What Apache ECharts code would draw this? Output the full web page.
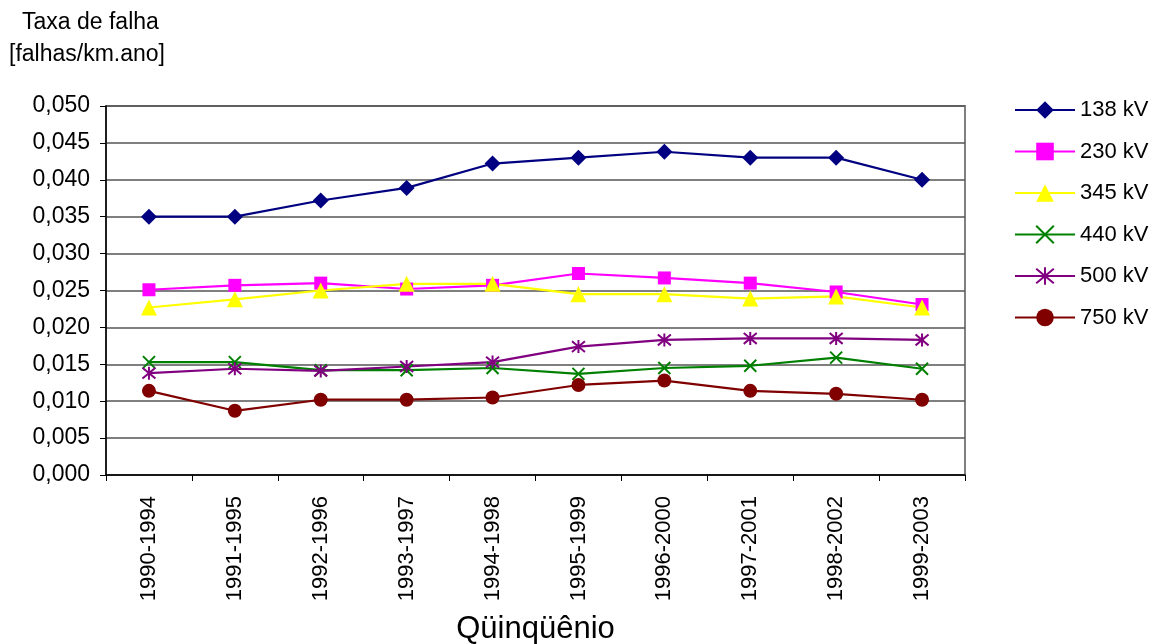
<!DOCTYPE html>
<html>
<head>
<meta charset="utf-8">
<script src="https://cdn.jsdelivr.net/npm/echarts@6/dist/echarts.min.js"></script>
<style>html,body{margin:0;padding:0;background:#fff}#c{width:1154px;height:644px}</style>
</head>
<body>
<div id="c"></div>
<script>
const categories = ['1990-1994','1991-1995','1992-1996','1993-1997','1994-1998','1995-1999','1996-2000','1997-2001','1998-2002','1999-2003'];
const s138 = [0.0350, 0.0350, 0.0372, 0.0389, 0.0422, 0.0430, 0.0438, 0.0430, 0.0430, 0.0400];
const s230 = [0.0251, 0.0257, 0.0260, 0.0252, 0.0257, 0.0273, 0.0267, 0.0260, 0.0248, 0.0231];
const s345 = [0.0227, 0.0238, 0.0250, 0.0259, 0.0259, 0.0245, 0.0245, 0.0239, 0.0242, 0.0227];
const s440 = [0.0153, 0.0153, 0.0142, 0.0142, 0.0145, 0.0137, 0.0145, 0.0148, 0.0159, 0.0144];
const s500 = [0.0138, 0.0144, 0.0141, 0.0147, 0.0153, 0.0174, 0.0183, 0.0185, 0.0185, 0.0183];
const s750 = [0.0114, 0.0087, 0.0102, 0.0102, 0.0105, 0.0122, 0.0128, 0.0114, 0.0110, 0.0102];
const seriesNames = ['138 kV','230 kV','345 kV','440 kV','500 kV','750 kV'];
const yTitle1 = 'Taxa de falha';
const yTitle2 = '[falhas/km.ano]';
const xTitle = 'Qüinqüênio';

const FONT = '"Liberation Sans", Arial, sans-serif';
const X_PATH = 'path://M0 0L10 10M10 0L0 10';
const AST_PATH = 'path://M0 0L10 10M10 0L0 10M5 -1L5 11';

function mk(name, data, color, symbol, size, stroked) {
  const s = {
    name, type: 'line', data, symbol, symbolSize: size,
    lineStyle: {color, width: 2.2},
    itemStyle: {color},
    emphasis: {disabled: true},
    animation: false
  };
  if (stroked) {
    s.itemStyle = {color: 'rgba(0,0,0,0)', borderColor: color, borderWidth: 2};
  }
  return s;
}

const chart = echarts.init(document.getElementById('c'));
chart.setOption({
  animation: false,
  textStyle: {fontFamily: FONT},
  grid: {left: 106, top: 106, right: 189, bottom: 169, outerBoundsMode: 'none', containLabel: false,
    show: true, borderColor: '#808080', borderWidth: 2, backgroundColor: '#fff'},
  legend: {
    orient: 'vertical', left: 1014, top: 99, padding: 0,
    itemWidth: 60, itemHeight: 22, itemGap: 19.5,
    textStyle: {fontSize: 22, color: '#000', fontFamily: FONT, lineHeight: 22},
    data: seriesNames
  },
  graphic: [
    {type: 'text', left: 22, top: 11, style: {text: yTitle1, fontSize: 23, fontFamily: FONT, fill: '#000'}},
    {type: 'text', left: 9, top: 43, style: {text: yTitle2, fontSize: 23, fontFamily: FONT, fill: '#000'}}
  ],
  xAxis: {
    type: 'category', data: categories, boundaryGap: true,
    name: xTitle, nameLocation: 'middle', nameGap: 139,
    nameTextStyle: {fontSize: 31, color: '#000', fontFamily: FONT},
    axisLine: {lineStyle: {color: '#000', width: 1.5}},
    axisTick: {show: true, length: 6, lineStyle: {color: '#000'}},
    axisLabel: {rotate: 90, fontSize: 22, color: '#000', margin: 21, fontFamily: FONT},
    splitLine: {show: false}
  },
  yAxis: {
    type: 'value', min: 0, max: 0.05, interval: 0.005,
    axisLine: {show: true, lineStyle: {color: '#000', width: 1.5}},
    axisTick: {show: true, length: 6, lineStyle: {color: '#000'}},
    axisLabel: {fontSize: 23, color: '#000', margin: 16, fontFamily: FONT,
      formatter: v => v.toFixed(3).replace('.', ',')},
    splitLine: {show: true, lineStyle: {color: '#555', width: 1.5}}
  },
  series: [
    mk(seriesNames[0], s138, '#000080', 'diamond', 16, false),
    mk(seriesNames[1], s230, '#FF00FF', 'rect', 13, false),
    mk(seriesNames[2], s345, '#FFFF00', 'triangle', 16, false),
    mk(seriesNames[3], s440, '#008000', X_PATH, 12, true),
    mk(seriesNames[4], s500, '#800080', AST_PATH, 13, true),
    mk(seriesNames[5], s750, '#800000', 'circle', 14, false)
  ]
});
</script>
</body>
</html>
